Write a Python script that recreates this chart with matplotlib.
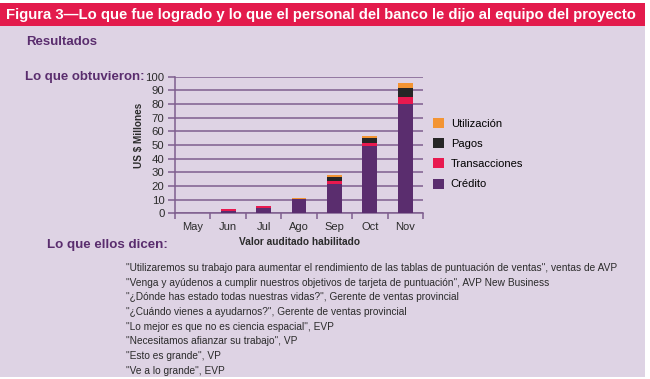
import matplotlib
matplotlib.use("Agg")
import matplotlib.pyplot as plt
from matplotlib.patches import Rectangle, Patch
import numpy as np

months = ["May", "Jun", "Jul", "Ago", "Sep", "Oct", "Nov"]
credito = [0, 1.8, 4.2, 10.5, 21.5, 49.2, 80.0]
transacciones = [0, 1.5, 1.5, 0, 2.3, 2.5, 5.5]
pagos = [0, 0, 0, 0, 2.9, 3.2, 6.5]
utilizacion = [0, 0, 0, 0.6, 1.7, 1.6, 3.2]
series_names = ["Crédito", "Transacciones", "Pagos", "Utilización"]
yticks = [0, 10, 20, 30, 40, 50, 60, 70, 80, 90, 100]

quotes = [
    "\"Utilizaremos su trabajo para aumentar el rendimiento de las tablas de puntuación de ventas\", ventas de AVP",
    "\"Venga y ayúdenos a cumplir nuestros objetivos de tarjeta de puntuación\", AVP New Business",
    "\"¿Dónde has estado todas nuestras vidas?\", Gerente de ventas provincial",
    "\"¿Cuándo vienes a ayudarnos?\", Gerente de ventas provincial",
    "\"Lo mejor es que no es ciencia espacial\", EVP",
    "\"Necesitamos afianzar su trabajo\", VP",
    "\"Esto es grande\", VP",
    "\"Ve a lo grande\", EVP",
]

C_CRED = "#5a2d6e"
C_TRANS = "#e8194f"
C_PAGOS = "#262626"
C_UTIL = "#f39433"
BG = "#ded3e4"
RED = "#e31b4c"
PURPLE_TXT = "#5a2d6e"
GRID = "#7e5e8e"
TXT = "#2b2b2b"

W, H = 650, 379
fig = plt.figure(figsize=(6.5, 3.79), dpi=100)
fig.patch.set_facecolor("white")

def px(x, y):
    return x / W, 1 - y / H

# background panel and header
fig.patches.append(Rectangle((0, 1 - 377 / H), 645 / W, (377 - 26) / H,
                             transform=fig.transFigure, facecolor=BG, edgecolor="none", zorder=-10))
fig.patches.append(Rectangle((0, 1 - 26 / H), 645 / W, 23 / H,
                             transform=fig.transFigure, facecolor=RED, edgecolor="none", zorder=-10))

sans = ["Liberation Sans", "DejaVu Sans"]

fig.text(*px(6, 14.5), "Figura 3\u2014Lo que fue logrado y lo que el personal del banco le dijo al equipo del proyecto",
         color="white", fontsize=10.7, fontweight="bold", family=sans, va="center", ha="left")
fig.text(*px(26, 42), "Resultados", color=PURPLE_TXT, fontsize=9.5, fontweight="bold",
         family=sans, va="center", ha="left")
fig.text(*px(25, 77), "Lo que obtuvieron:", color=PURPLE_TXT, fontsize=9.5, fontweight="bold",
         family=sans, va="center", ha="left")
fig.text(*px(47, 245), "Lo que ellos dicen:", color=PURPLE_TXT, fontsize=9.6, fontweight="bold",
         family=sans, va="center", ha="left")

y0 = 268
step = 14.7
for i, q in enumerate(quotes):
    fig.text(*px(126, y0 + i * step), q, color=TXT, fontsize=7.3, family=sans, va="center", ha="left")

# axes
left, right, top, bottom = 175, 423, 76.7, 213.3
ax = fig.add_axes([left / W, 1 - bottom / H, (right - left) / W, (bottom - top) / H])
ax.set_facecolor("none")
x = np.arange(len(months))
bw = 0.42
b = np.zeros(len(months))
for vals, col in zip([credito, transacciones, pagos, utilizacion], [C_CRED, C_TRANS, C_PAGOS, C_UTIL]):
    ax.bar(x, vals, bw, bottom=b, color=col, zorder=3, linewidth=0)
    b = b + np.array(vals)

ax.set_xlim(-0.5, 6.5)
ax.set_ylim(0, 100)
ax.set_yticks(yticks)
ax.set_yticklabels([str(t) for t in yticks], fontsize=8.2, color=TXT, family=sans)
ax.set_xticks(np.arange(-0.5, 7, 1))
ax.set_xticklabels([])
ax.set_xticks(x, minor=True)
ax.set_xticklabels(months, minor=True, fontsize=8, color=TXT, family=sans)
ax.tick_params(axis="x", which="minor", length=0, pad=6)
ax.tick_params(axis="x", which="major", length=4, width=1.1, color=GRID, direction="out")
ax.tick_params(axis="y", length=5, width=1.1, color=GRID, direction="out", pad=2.5)
ax.yaxis.grid(True, color=GRID, linewidth=1.1, zorder=1)
ax.set_axisbelow(True)
for s in ["top", "right"]:
    ax.spines[s].set_visible(False)
for s in ["left", "bottom"]:
    ax.spines[s].set_color(GRID)
    ax.spines[s].set_linewidth(1.1)

ax.set_ylabel("US $ Millones", fontsize=7.2, fontweight="bold", color=TXT, family=sans)
ax.yaxis.set_label_coords((139 - left) / (right - left), (bottom - 135) / (bottom - top))
ax.yaxis.label.set_va("center")
ax.set_xlabel("Valor auditado habilitado", fontsize=7.3, fontweight="bold", color=TXT, family=sans)
ax.xaxis.set_label_coords((299.5 - left) / (right - left), (bottom - 242) / (bottom - top))
ax.xaxis.label.set_va("center")

handles = [Patch(facecolor=c, edgecolor="none") for c in [C_UTIL, C_PAGOS, C_TRANS, C_CRED]]
labels = list(reversed(series_names))
fig.legend(handles, labels, loc="upper left", bbox_to_anchor=px(423, 108), frameon=False,
           handlelength=1.0, handleheight=1.0, handletextpad=0.6, labelspacing=0.85,
           prop={"family": sans, "size": 8})

fig.savefig("out.png", dpi=100, facecolor=fig.get_facecolor())
